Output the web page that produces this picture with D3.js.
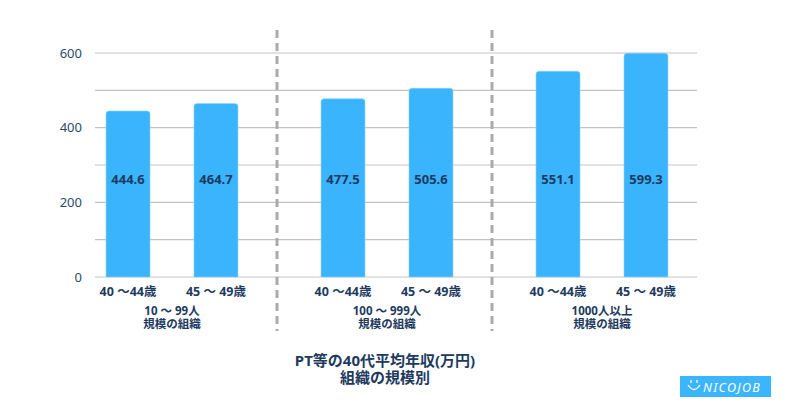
<!DOCTYPE html>
<html><head><meta charset="utf-8">
<script src="https://cdn.jsdelivr.net/npm/d3@7"></script>
<style>
html,body{margin:0;padding:0;background:#fff;}
svg{display:block;font-family:"Noto Sans","Noto Sans CJK JP",sans-serif;}
</style></head>
<body>
<svg id="chart" width="796" height="418"></svg>
<script>
const groups = ["10 ～ 99人|規模の組織", "100 ～ 999人|規模の組織", "1000人以上|規模の組織"];
const ages = ["40 ～44歳", "45 ～ 49歳"];
const values = [[444.6, 464.7], [477.5, 505.6], [551.1, 599.3]];
const yTicks = [0, 200, 400, 600];
const gridTicks = [0, 100, 200, 300, 400, 500, 600];
const titleLines = ["PT等の40代平均年収(万円)", "組織の規模別"];

const svg = d3.select("#chart");
const navy = "#1e3a5f";
const barColor = "#3ab4fd";

const y = d3.scaleLinear().domain([0, 600]).range([277, 53]);
const xg = d3.scaleBand().domain(groups).range([64.5, 709.5]).padding(0);
const xi = d3.scaleBand().domain(ages).range([0, xg.bandwidth()])
  .paddingInner(0.5).paddingOuter(0.472);

// gridlines
svg.append("g").selectAll("line").data(gridTicks).join("line")
  .attr("x1", 95).attr("x2", 697)
  .attr("y1", d => y(d)).attr("y2", d => y(d))
  .attr("stroke", "#c3c3c3").attr("stroke-width", 1.2);

// y tick labels
svg.append("g").selectAll("text").data(yTicks).join("text")
  .attr("x", 82).attr("y", d => y(d)).attr("dy", "0.35em")
  .attr("text-anchor", "end").attr("font-size", 13).attr("fill", "#2c4a6e")
  .text(d => d);

// separators
svg.append("g").selectAll("line").data(groups.slice(1)).join("line")
  .attr("x1", d => xg(d) - 2.5).attr("x2", d => xg(d) - 2.5)
  .attr("y1", 30).attr("y2", 331)
  .attr("stroke", "#aaaaaa").attr("stroke-width", 3)
  .attr("stroke-dasharray", "8,5");

// bars
const r = 3;
groups.forEach((g, gi) => {
  const gg = svg.append("g").attr("transform", `translate(${xg(g)},0)`);
  ages.forEach((a, ai) => {
    const v = values[gi][ai];
    const x0 = xi(a), w = xi.bandwidth(), top = y(v), bot = y(0);
    gg.append("path")
      .attr("d", `M${x0},${bot}V${top + r}Q${x0},${top} ${x0 + r},${top}H${x0 + w - r}Q${x0 + w},${top} ${x0 + w},${top + r}V${bot}Z`)
      .attr("fill", barColor).attr("stroke", "#8fd3fe").attr("stroke-width", 0.6);
    gg.append("text")
      .attr("x", x0 + w / 2).attr("y", y(260)).attr("dy", "0.35em")
      .attr("text-anchor", "middle").attr("font-size", 13).attr("font-weight", "bold")
      .attr("fill", navy).text(v.toFixed(1));
    gg.append("text")
      .attr("x", x0 + w / 2).attr("y", 292).attr("dy", "0.35em")
      .attr("text-anchor", "middle").attr("font-size", 12.5).attr("font-weight", "bold")
      .attr("fill", navy).text(a);
  });
  const lines = g.split("|");
  lines.forEach((t, li) => {
    gg.append("text")
      .attr("x", xg.bandwidth() / 2).attr("y", 311 + li * 13).attr("dy", "0.35em")
      .attr("text-anchor", "middle").attr("font-size", 11.5).attr("font-weight", "bold")
      .attr("fill", navy).text(t);
  });
});

// title
titleLines.forEach((t, i) => {
  svg.append("text")
    .attr("x", 385).attr("y", 361 + i * 17).attr("dy", "0.35em")
    .attr("text-anchor", "middle").attr("font-size", 15).attr("font-weight", "bold")
    .attr("fill", navy).text(t);
});

// logo
const logo = svg.append("g").attr("transform", "translate(680,376)");
logo.append("rect").attr("width", 91).attr("height", 21).attr("fill", "#3bb5fb");
logo.append("path").attr("d", "M8,9 Q14,18 20,9").attr("fill", "none")
  .attr("stroke", "#fff").attr("stroke-width", 1.3);
logo.append("line").attr("x1", 11).attr("x2", 11).attr("y1", 4).attr("y2", 7).attr("stroke", "#fff").attr("stroke-width", 1.3);
logo.append("line").attr("x1", 17).attr("x2", 17).attr("y1", 4).attr("y2", 7).attr("stroke", "#fff").attr("stroke-width", 1.3);
logo.append("text").attr("x", 23).attr("y", 15.5)
  .attr("font-size", 12.5).attr("font-style", "italic").attr("fill", "#fff")
  .attr("letter-spacing", 1.3).text("NICOJOB");
</script>
</body></html>
